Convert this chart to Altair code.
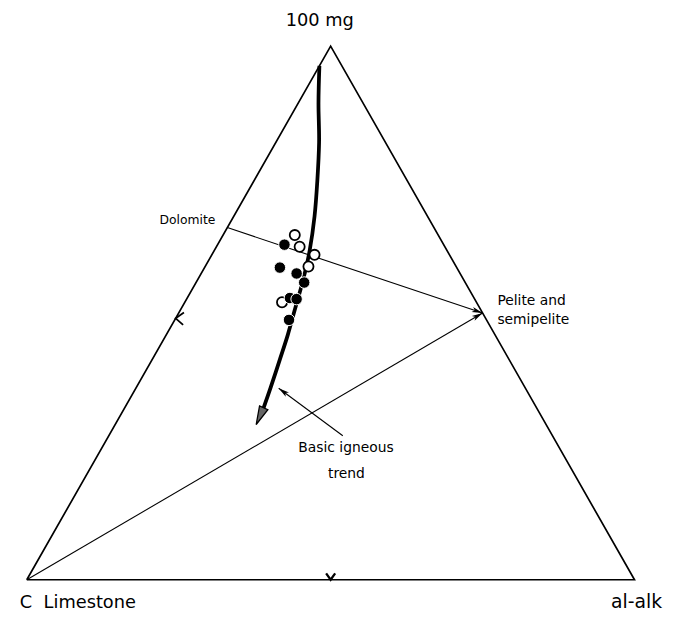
import math
import altair as alt
import pandas as pd

# ---------------- data (ternary percentages: mg, al-alk; C = 100 - mg - al) -------------
vertex_mg = [0, 0, 100, 0]
vertex_al = [0, 100, 0, 0]

open_mg = [64.6, 62.4, 60.9, 58.7, 52.0]
open_al = [11.8, 13.7, 16.9, 17.0, 16.0]

filled_mg = [62.8, 58.5, 57.4, 55.7, 52.8, 52.6, 48.7]
filled_al = [11.0, 12.4, 15.7, 17.8, 16.9, 18.1, 18.8]

# basic igneous trend (last point = arrow tip)
trend_mg = [96.3, 89.4, 82.0, 74.6, 68.1, 61.7, 56.1, 50.6, 45.9, 41.3, 36.1, 32.0, 29.1]
trend_al = [0.0, 3.3, 7.1, 10.5, 13.3, 15.7, 17.4, 18.8, 20.0, 21.0, 22.1, 22.9, 23.2]

dolomite = (66.0, 0.0)
pelite = (50.0, 50.0)
limestone = (0.0, 0.0)
alalk = (0.0, 100.0)
apex = (100.0, 0.0)
pointer_tail = (27.0, 38.5)
pointer_tip = (35.9, 23.5)
mid_left = (49.0, 0.0)
mid_bottom = (0.0, 50.0)

W, H = 615, 540
YMAX = 100 * math.sqrt(3) / 2
PX_X = W / 100.0
PX_Y = H / YMAX


def xy(mg, al):
    return al + mg / 2.0, mg * math.sqrt(3) / 2.0


def frame(mgs, als):
    rows = []
    for i, (m, a) in enumerate(zip(mgs, als)):
        x, y = xy(m, a)
        rows.append({"x": x, "y": y, "order": i})
    return pd.DataFrame(rows)


def angle(p0, p1):
    x0, y0 = xy(*p0)
    x1, y1 = xy(*p1)
    dx = (x1 - x0) * PX_X
    dy = -(y1 - y0) * PX_Y
    return math.degrees(math.atan2(dx, -dy)) % 360


xs = alt.X("x:Q", scale=alt.Scale(domain=[0, 100], nice=False, zero=False), axis=None)
ys = alt.Y("y:Q", scale=alt.Scale(domain=[0, YMAX], nice=False, zero=False), axis=None)

# triangle
tri = alt.Chart(frame(vertex_mg, vertex_al)).mark_line(
    color="black", strokeWidth=1.7
).encode(x=xs, y=ys, order="order:Q")

# straight segments
segs = []
for a, b in [(dolomite, pelite), (limestone, pelite), (pointer_tail, pointer_tip)]:
    x0, y0 = xy(*a)
    x1, y1 = xy(*b)
    segs.append({"x": x0, "y": y0, "x2": x1, "y2": y1})
seg_chart = alt.Chart(pd.DataFrame(segs)).mark_rule(color="black", strokeWidth=1.1).encode(
    x=xs, y=ys, x2="x2:Q", y2="y2:Q"
)

# trend curve (shaft ends where the arrowhead begins)
trend = alt.Chart(frame(trend_mg[:-1], trend_al[:-1])).mark_line(
    color="black", strokeWidth=3.8, interpolate="cardinal"
).encode(x=xs, y=ys, order="order:Q")

# arrowheads
thin_heads = []
for tail, tip in [(dolomite, pelite), (limestone, pelite), (pointer_tail, pointer_tip)]:
    x, y = xy(*tip)
    thin_heads.append({"x": x, "y": y, "angle": angle(tail, tip)})
thin_head_chart = alt.Chart(pd.DataFrame(thin_heads)).mark_point(
    shape="M0,0 L0.5,2 L0,1.5 L-0.5,2 Z", filled=True, color="black", size=120, opacity=1
).encode(x=xs, y=ys, angle=alt.Angle("angle:Q", scale=None))

tx, ty = xy(trend_mg[-1], trend_al[-1])
big_head = alt.Chart(pd.DataFrame([{
    "x": tx, "y": ty,
    "angle": angle((trend_mg[-2], trend_al[-2]), (trend_mg[-1], trend_al[-1]))
}])).mark_point(
    shape="M0,0 L0.5,2 L-0.5,2 Z", filled=True, fill="#666666", stroke="black",
    strokeWidth=1.3, size=340, opacity=1
).encode(x=xs, y=ys, angle=alt.Angle("angle:Q", scale=None))

# samples
open_pts = alt.Chart(frame(open_mg, open_al)).mark_point(
    shape="circle", filled=True, fill="white", stroke="black", strokeWidth=1.8,
    size=105, opacity=1
).encode(x=xs, y=ys)
filled_pts = alt.Chart(frame(filled_mg, filled_al)).mark_point(
    shape="circle", filled=True, fill="black", stroke="white", strokeWidth=1.0,
    size=135, opacity=1
).encode(x=xs, y=ys)

# midpoint ticks
lx, ly = xy(*mid_left)
left_tick = alt.Chart(pd.DataFrame([{"x": lx, "y": ly}])).mark_point(
    shape="M1,-0.7 L0,0 L0.9,0.8", filled=False, color="black", strokeWidth=1.8,
    size=280, opacity=1
).encode(x=xs, y=ys)
bx, by = xy(*mid_bottom)
bottom_tick = alt.Chart(pd.DataFrame([{"x": bx, "y": by}])).mark_point(
    shape="M-0.7,-1 L0,0 L0.7,-1", filled=False, color="black", strokeWidth=2.3,
    size=170, opacity=1
).encode(x=xs, y=ys)


def label(text, anchor, dx, dy, align="left", size=14, baseline="middle"):
    x, y = xy(*anchor)
    return alt.Chart(pd.DataFrame([{"x": x, "y": y, "t": text}])).mark_text(
        dx=dx, dy=dy, align=align, baseline=baseline, fontSize=size,
        font="DejaVu Sans", color="black"
    ).encode(x=xs, y=ys, text="t:N")


labels = [
    label("100 mg", apex, -11, -20, align="center", size=18, baseline="alphabetic"),
    label("Dolomite", dolomite, -12, -8, align="right", size=12.5),
    label("Pelite and", pelite, 15, -12, size=14),
    label("semipelite", pelite, 15, 7, size=14),
    label("C\u00a0\u00a0Limestone", limestone, -7, 29, size=18, baseline="alphabetic"),
    label("al-alk", alalk, 2, 29, align="center", size=19, baseline="alphabetic"),
    label("Basic igneous", pointer_tail, -45, 13, size=14),
    label("trend", pointer_tail, -15, 39, size=14),
]

chart = alt.layer(
    tri, seg_chart, trend, thin_head_chart, big_head, open_pts, filled_pts,
    left_tick, bottom_tick, *labels
).properties(
    width=W, height=H,
    autosize=alt.AutoSizeParams(type="none"),
    padding={"left": 19, "top": 35, "right": 43, "bottom": 29},
    background="white",
).configure_view(stroke=None)

chart.save("out.html", embed_options={"renderer": "svg", "actions": False})
